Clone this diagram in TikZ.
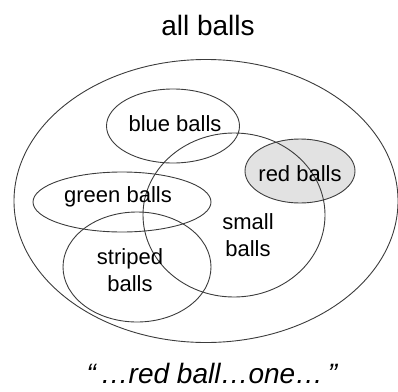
\documentclass[tikz,border=0pt]{standalone}
\usepackage{fontspec}
\setmainfont{Liberation Sans}
\usetikzlibrary{shapes.geometric}
\definecolor{redset}{RGB}{226,226,226}
\definecolor{setline}{RGB}{60,60,60}

\begin{document}
\begin{tikzpicture}[x=1pt, y=-1pt,
  set/.style={draw=setline, line width=0.9pt, ellipse, inner sep=0pt},
  lbl/.style={font=\fontsize{22}{27}\selectfont, align=center, text=black},
]
\useasboundingbox (0,0) rectangle (398,391);
\node[set, minimum width=384pt, minimum height=283pt] (all) at (206,201) {};
\node[set, fill=redset, minimum width=110pt, minimum height=64pt] (red) at (300,171) {};
\node[set, minimum width=133pt, minimum height=74pt] (blue) at (173,126) {};
\node[set, minimum width=182pt, minimum height=164pt] (small) at (234,215) {};
\node[set, minimum width=178pt, minimum height=60pt] (green) at (122,202) {};
\node[set, minimum width=148pt, minimum height=110pt] (striped) at (137,267) {};

\node[lbl, font=\fontsize{28}{32}\selectfont] (title) at (208,25) {all balls};
\node[lbl] (bluetxt) at (175,124) {blue balls};
\node[lbl] (redtxt) at (300,174) {red balls};
\node[lbl] (greentxt) at (118,197) {green balls};
\node[lbl] (smalltxt) at (248,235) {small\\balls};
\node[lbl] (stripedtxt) at (130,270) {striped\\balls};
\node[lbl, font=\fontsize{28}{32}\selectfont\itshape, inner sep=0pt, anchor=base]
  (quote) at (212,383) {“\,…red ball…one…\,”};
\end{tikzpicture}
\end{document}
